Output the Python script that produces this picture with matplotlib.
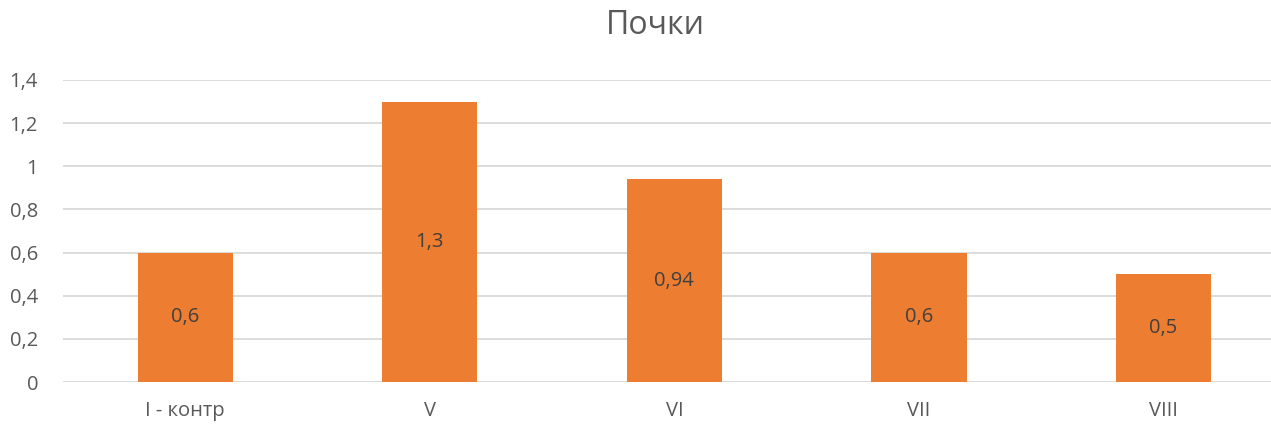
import matplotlib
matplotlib.use("Agg")
import matplotlib.pyplot as plt

categories = ["I - контр", "V", "VI", "VII", "VIII"]
values = [0.6, 1.3, 0.94, 0.6, 0.5]
yticks = [0, 0.2, 0.4, 0.6, 0.8, 1.0, 1.2, 1.4]

TEXT = "#595959"
plt.rcParams["font.family"] = ["Open Sans", "DejaVu Sans"]


def comma(v):
    s = f"{v:g}"
    return s.replace(".", ",")


fig = plt.figure(figsize=(12.71, 4.25), dpi=100)
ax = fig.add_axes([63 / 1271, 43 / 425, 1 - 63 / 1271, 302 / 425])

x = range(len(categories))
bars = ax.bar(x, values, width=0.39, color="#ED7D31", zorder=3)
for b, v in zip(bars, values):
    ax.text(b.get_x() + b.get_width() / 2, v / 2, comma(v),
            ha="center", va="center", fontsize=14.5, color="#404040", zorder=4)

ax.set_xlim(-0.5, 4.44)
ax.set_ylim(0, 1.4)
ax.set_yticks(yticks)
ax.set_yticklabels([comma(t) for t in yticks])
ax.set_xticks(list(x))
ax.set_xticklabels(categories)
ax.tick_params(axis="both", length=0, colors=TEXT, labelsize=14.5)
ax.tick_params(axis="y", pad=18)
ax.tick_params(axis="x", pad=14)
ax.yaxis.grid(True, color="#D9D9D9", lw=1.3, zorder=0)
for s in ax.spines.values():
    s.set_visible(False)

fig.text(655 / 1271, 1 - 26 / 425, "Почки", ha="center", va="center",
         fontsize=23, color=TEXT)

fig.savefig("out.png", dpi=100)
